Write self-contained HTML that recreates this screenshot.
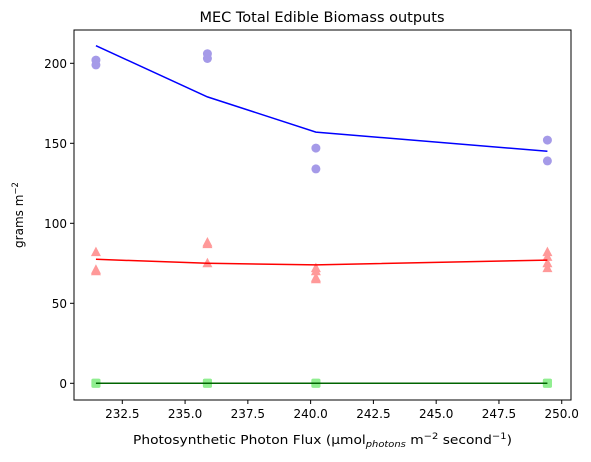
<!DOCTYPE html>
<html><head><meta charset="utf-8"><style>
body{margin:0;background:#fff;}
svg{display:block;font-family:"DejaVu Sans","Liberation Sans",sans-serif;}
</style></head><body>
<svg id="chart" width="591" height="462">
<text x="322" y="22" font-size="14.5" text-anchor="middle">MEC Total Edible Biomass outputs</text>
<g id="grid"></g>
<g id="marks"></g>
<rect x="74" y="30" width="497" height="370" fill="none" stroke="#000" stroke-width="1"/>
<text x="133" y="444" font-size="12.5" textLength="379" lengthAdjust="spacingAndGlyphs">Photosynthetic Photon Flux (µmol<tspan font-size="9" font-style="italic" dy="3">photons</tspan><tspan dy="-3"> m</tspan><tspan font-size="9" dy="-5">−2</tspan><tspan dy="5"> second</tspan><tspan font-size="9" dy="-5">−1</tspan><tspan dy="5">)</tspan></text>
<text transform="translate(23,215) rotate(-90)" font-size="12" text-anchor="middle">grams m<tspan font-size="8.5" dy="-5">−2</tspan></text>
</svg>
<script>
const xCats=[231.45,235.89,240.21,249.43];
const blueLine=[211,179,157,145];
const redLine=[77.5,75,74,77];
const greenLine=[0,0,0,0];
const bluePts=[[202,199],[206,203],[147,134],[152,139]];
const redPts=[[82,71,70],[87,88,75],[72,70,65,66],[82,79,72,75]];
const greenPts=[[0,0],[0,0],[0,0],[0,0]];
const xTicks=[232.5,235.0,237.5,240.0,242.5,245.0,247.5,250.0];
const yTicks=[0,50,100,150,200];

const NS="http://www.w3.org/2000/svg";
const X=v=>122.3+(v-232.5)*25.11;
const Y=v=>383.3-v*1.6;
const g=document.getElementById('grid'),m=document.getElementById('marks');
function mk(tag,attrs,parent){const e=document.createElementNS(NS,tag);for(const k in attrs)e.setAttribute(k,attrs[k]);parent.appendChild(e);return e;}
xTicks.forEach(t=>{
  const l=mk('line',{x1:X(t),x2:X(t),y1:400,y2:404,stroke:'#000'},g);
  
  
  const tx=mk('text',{x:X(t),y:418,'font-size':12,'text-anchor':'middle'},g);tx.textContent=t.toFixed(1);
  
  
});
yTicks.forEach(t=>{
  const l=mk('line',{x1:70,x2:74,y1:Y(t),y2:Y(t),stroke:'#000'},g);
  
  
  const tx=mk('text',{x:67,y:Y(t)+4.5,'font-size':12,'text-anchor':'end'},g);tx.textContent=t;
  
  
});
function pts(arr,color,shape,name){
  arr.forEach((vals,i)=>vals.forEach(v=>{
    const cx=X(xCats[i]),cy=Y(v);let e;
    if(shape==='c')e=mk('circle',{cx:cx,cy:cy,r:4.5,fill:color},m);
    else if(shape==='s')e=mk('rect',{x:cx-4.5,y:cy-4.5,width:9,height:9,rx:1.5,fill:color},m);
    else e=mk('polygon',{points:`${cx},${cy-5.5} ${cx+5},${cy+4} ${cx-5},${cy+4}`,fill:color},m);
    
    
  }));
}
function line(arr,color,name){
  const e=mk('polyline',{points:arr.map((v,i)=>X(xCats[i])+','+Y(v)).join(' '),fill:'none',stroke:color,'stroke-width':1.5},m);
  
  
}
pts(bluePts,'#a59ae8','c','blue-point');
pts(redPts,'#ff9999','t','red-point');
pts(greenPts,'#90ee90','s','green-point');
line(blueLine,'#0000ff','blue-mean-line');
line(redLine,'#ff0000','red-mean-line');
line(greenLine,'#006400','green-mean-line');
</script>
</body></html>
